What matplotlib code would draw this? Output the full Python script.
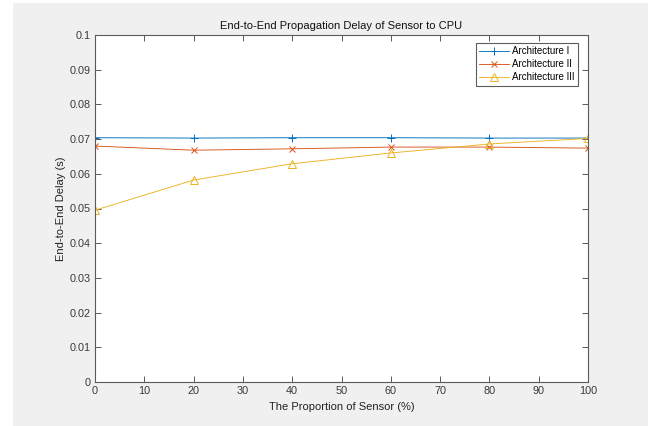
import matplotlib
matplotlib.use("Agg")
import matplotlib.pyplot as plt
from matplotlib.patches import Rectangle

plt.rcParams['font.family'] = ['Liberation Sans', 'DejaVu Sans']

x = [0, 20, 40, 60, 80, 100]
arch1 = [0.0704, 0.0703, 0.0704, 0.0704, 0.0703, 0.0703]
arch2 = [0.0680, 0.0668, 0.0672, 0.0677, 0.0677, 0.0674]
arch3 = [0.0495, 0.0582, 0.0629, 0.0660, 0.0686, 0.0702]
labels = ['Architecture I', 'Architecture II', 'Architecture III']
title = 'End-to-End Propagation Delay of Sensor to CPU'
xlabel = 'The Proportion of Sensor (%)'
ylabel = 'End-to-End Delay (s)'

W, H = 655, 426
fig = plt.figure(figsize=(W / 100, H / 100), dpi=100, facecolor='white')
fig.patches.append(Rectangle((13 / W, 0), (648 - 13) / W, (H - 3) / H,
                             transform=fig.transFigure, facecolor='#f0f0f0',
                             edgecolor='none', zorder=-10))

ax = fig.add_axes([95 / W, (H - 382) / H, (588 - 95) / W, (382 - 35) / H])
ax.set_facecolor('white')

c1, c2, c3 = '#0072BD', '#D95319', '#EDB120'
ax.plot(x, arch1, color=c1, marker='+', lw=0.65, ms=5.5, mew=0.7, label=labels[0])
ax.plot(x, arch2, color=c2, marker='x', lw=0.65, ms=4, mew=0.7, label=labels[1])
ax.plot(x, arch3, color=c3, marker='^', lw=0.65, ms=5.5, mew=0.7,
        markerfacecolor='none', label=labels[2])

ax.set_xlim(0, 100)
ax.set_ylim(0, 0.1)
ax.set_xticks(range(0, 101, 10))
ax.set_yticks([i / 100 for i in range(11)])
ax.set_yticklabels(['0'] + [f'{i/100:g}' for i in range(1, 11)])

axcol = '#3a3a3a'
for s in ax.spines.values():
    s.set_color('#5a5a5a')
    s.set_linewidth(0.8)
ax.tick_params(direction='in', length=4, width=0.7, colors='#5a5a5a',
               labelcolor=axcol, labelsize=7.8, top=True, right=True, pad=3)

ax.set_title(title, fontsize=8, color='#111111', pad=4.5)
ax.set_xlabel(xlabel, fontsize=8, color='#222222', labelpad=4.5)
ax.set_ylabel(ylabel, fontsize=8, color='#222222', labelpad=2.5)

leg = ax.legend(loc='upper right', fontsize=7, frameon=True, fancybox=False,
                edgecolor='#333333', handlelength=3.1, borderpad=0.35,
                labelspacing=0.3, handletextpad=0.3,
                bbox_to_anchor=(1 - 10 / (588 - 95), 1 - 8 / (382 - 35)),
                borderaxespad=0)
leg.get_frame().set_linewidth(0.8)

fig.savefig('out.png', dpi=100, facecolor='white')
